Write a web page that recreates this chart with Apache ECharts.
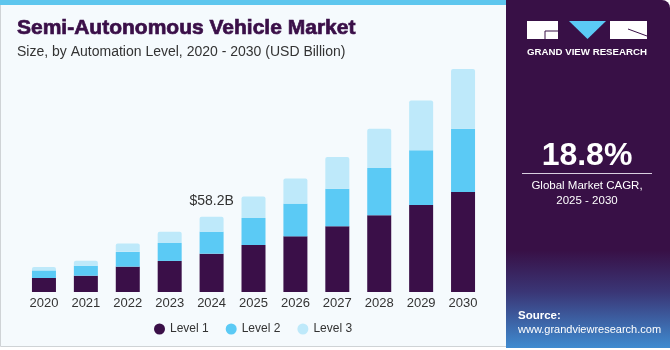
<!DOCTYPE html>
<html lang="en">
<head>
    <meta charset="UTF-8">
    <title>Semi-Autonomous Vehicle Market</title>
    <script src="https://cdn.jsdelivr.net/npm/echarts@6/dist/echarts.min.js"></script>
    <style>
        html, body { margin: 0; padding: 0; background: #fff; }
        #chart { width: 670px; height: 350px; }
    </style>
</head>
<body>
    <div id="chart"></div>

    <script>
    // values (USD Billion)
    const years = ['2020', '2021', '2022', '2023', '2024', '2025', '2026', '2027', '2028', '2029', '2030'];
    const level1 = [10.8, 12.6, 19.6, 24.0, 29.6, 36.3, 43.0, 50.7, 59.2, 67.3, 77.3];
    const level2 = [5.9, 7.7, 11.4, 13.9, 17.0, 20.9, 25.3, 29.1, 36.6, 42.2, 48.9];
    const level3 = [2.6, 3.9, 6.4, 8.7, 11.6, 16.5, 19.3, 24.5, 30.4, 38.4, 46.1];
    const calloutYear = '2024';
    const calloutText = '$58.2B';

    const font = '"Liberation Sans", Arial, sans-serif';

    var chart = echarts.init(document.getElementById('chart'));

    var level3Data = level3.map(function (v, i) {
        if (years[i] !== calloutYear) return v;
        return {
            value: v,
            label: {
                show: true,
                position: 'top',
                distance: 9,
                formatter: calloutText,
                color: '#333',
                fontSize: 14,
                fontFamily: font
            }
        };
    });

    var option = {
        backgroundColor: '#fff',
        animation: false,
        title: {
            text: 'Semi-Autonomous Vehicle Market',
            subtext: 'Size, by Automation Level, 2020 - 2030 (USD Billion)',
            left: 12,
            top: 13,
            itemGap: 5,
            textStyle: { color: '#3a0f48', fontSize: 21, fontWeight: 'bold', fontFamily: font,
                         textBorderColor: '#3a0f48', textBorderWidth: 0.7 },
            subtextStyle: { color: '#333', fontSize: 14, fontFamily: font }
        },
        legend: {
            left: 149,
            top: 318,
            icon: 'circle',
            itemWidth: 11,
            itemHeight: 11,
            itemGap: 17,
            textStyle: { color: '#333', fontSize: 12, fontFamily: font }
        },
        grid: { left: 23, right: 186, top: 59, bottom: 58 },
        xAxis: {
            type: 'category',
            data: years,
            axisLine: { show: false },
            axisTick: { show: false },
            axisLabel: { color: '#333', fontSize: 13, margin: 5, fontFamily: font }
        },
        yAxis: {
            type: 'value',
            min: 0,
            max: 180,
            show: false,
            splitLine: { show: false }
        },
        series: [
            { name: 'Level 1', type: 'bar', stack: 'all', barWidth: 24, data: level1,
              itemStyle: { color: '#3a0f48' } },
            { name: 'Level 2', type: 'bar', stack: 'all', barWidth: 24, data: level2,
              itemStyle: { color: '#5bcaf5' } },
            { name: 'Level 3', type: 'bar', stack: 'all', barWidth: 24, data: level3Data,
              itemStyle: { color: '#bee9fa', borderRadius: [2, 2, 0, 0] } }
        ],
        graphic: [
            // card behind the plot
            { type: 'rect', z: -10, shape: { x: 0.5, y: 0.5, width: 510, height: 346 },
              style: { fill: '#f5fafd', stroke: '#cfd3d6', lineWidth: 1 } },
            { type: 'rect', z: -9, shape: { x: 0, y: 0, width: 510, height: 5 },
              style: { fill: '#5ec6ee' } },
            // right panel
            { type: 'rect', z: -5, shape: { x: 506, y: 0, width: 164, height: 348, r: [0, 8, 0, 0] },
              style: {
                  fill: new echarts.graphic.LinearGradient(0, 0, 0, 1, [
                      { offset: 0, color: '#381046' },
                      { offset: 0.72, color: '#381046' },
                      { offset: 0.84, color: '#3a3676' },
                      { offset: 1, color: '#3f8bd0' }
                  ])
              } },
            // logo
            { type: 'rect', shape: { x: 527, y: 21, width: 31, height: 18 }, style: { fill: '#fff' } },
            { type: 'polyline', shape: { points: [[545, 39], [545, 31], [558, 31]] },
              style: { stroke: '#381046', lineWidth: 1, fill: null } },
            { type: 'polygon', shape: { points: [[569, 21], [606, 21], [587.5, 39]] },
              style: { fill: '#5bcaf5' } },
            { type: 'rect', shape: { x: 610, y: 21, width: 37, height: 18 }, style: { fill: '#fff' } },
            { type: 'line', shape: { x1: 628, y1: 29, x2: 647, y2: 36 },
              style: { stroke: '#381046', lineWidth: 1 } },
            { type: 'text', x: 587, y: 52,
              style: { text: 'GRAND VIEW RESEARCH', fill: '#fff', font: 'bold 9.7px ' + font,
                       align: 'center', verticalAlign: 'middle' } },
            // CAGR
            { type: 'text', x: 587, y: 156,
              style: { text: '18.8%', fill: '#fff', font: 'bold 32px ' + font,
                       align: 'center', verticalAlign: 'middle' } },
            { type: 'line', shape: { x1: 522, y1: 173.5, x2: 652, y2: 173.5 },
              style: { stroke: '#d9cfe0', lineWidth: 1 } },
            { type: 'text', x: 587, y: 186,
              style: { text: 'Global Market CAGR,', fill: '#fff', font: '11.5px ' + font,
                       align: 'center', verticalAlign: 'middle' } },
            { type: 'text', x: 587, y: 201,
              style: { text: '2025 - 2030', fill: '#fff', font: '11.5px ' + font,
                       align: 'center', verticalAlign: 'middle' } },
            // source
            { type: 'text', x: 518, y: 316,
              style: { text: 'Source:', fill: '#fff', font: 'bold 11.5px ' + font, verticalAlign: 'middle' } },
            { type: 'text', x: 518, y: 330,
              style: { text: 'www.grandviewresearch.com', fill: '#fff', font: '11px ' + font, verticalAlign: 'middle' } }
        ]
    };
    option && chart.setOption(option);
    </script>
</body>
</html>
